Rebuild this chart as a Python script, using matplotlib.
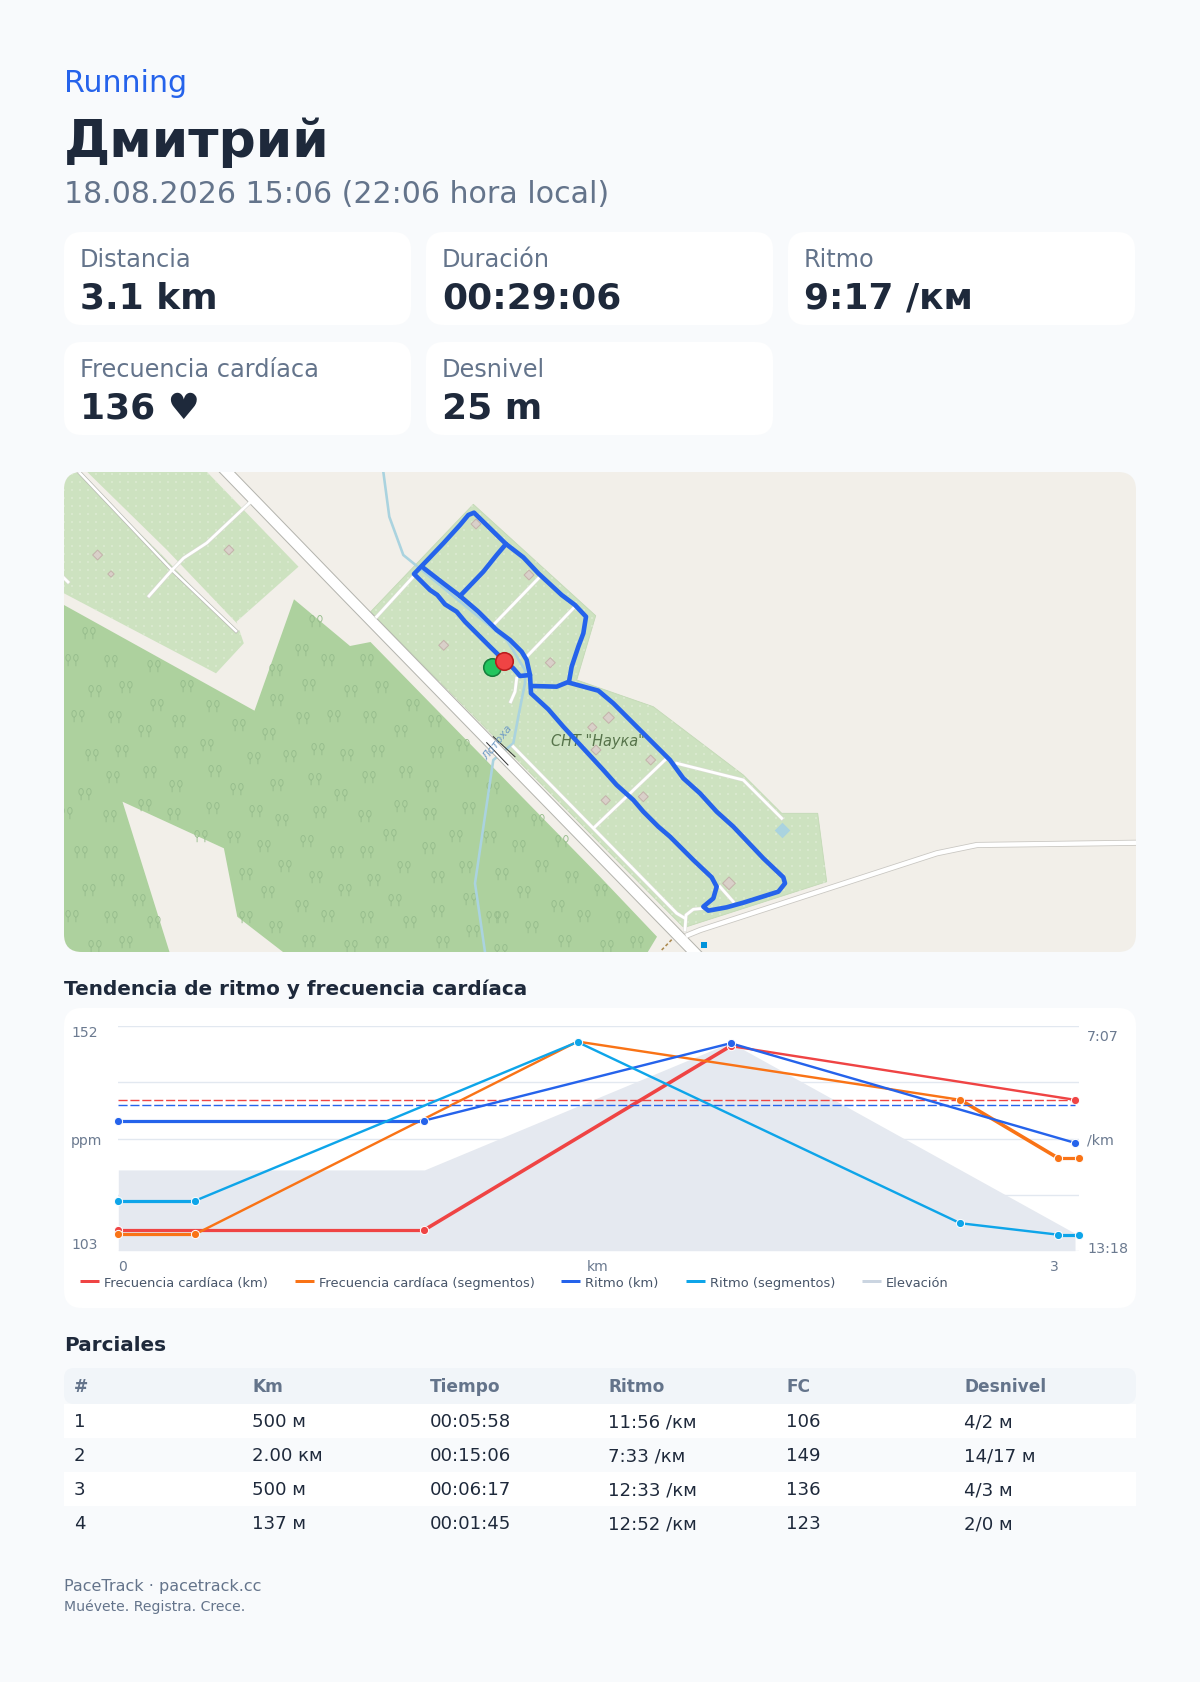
import matplotlib
matplotlib.use('Agg')
import matplotlib.pyplot as plt
import numpy as np
from matplotlib.patches import FancyBboxPatch, Polygon, Rectangle
from matplotlib.path import Path
from matplotlib.transforms import Affine2D

# --- header and cards
sport = 'Running'
athlete = 'Дмитрий'
started = '18.08.2026 15:06 (22:06 hora local)'
card_labels = ['Distancia', 'Duración', 'Ritmo', 'Frecuencia cardíaca', 'Desnivel']
card_values = ['3.1 km', '00:29:06', '9:17 /км', '136 ♥', '25 m']

# --- chart
km_x = [0, 1, 2, 3.125]
km_hr = [107, 107, 148, 136]
km_pace = [583, 583, 455, 620]
seg_x = [0, 0.25, 1.5, 2.75, 3.07, 3.137]
seg_hr = [106, 106, 149, 136, 123, 123]
seg_pace = [716, 716, 453, 753, 772, 772]
elevation = [9, 9, 23.2, 1.94]
avg_hr = 136
avg_pace = 557
legend_labels = ['Frecuencia cardíaca (km)', 'Frecuencia cardíaca (segmentos)', 'Ritmo (km)',
                 'Ritmo (segmentos)', 'Elevación']

# --- splits table
split_cols = ['#', 'Km', 'Tiempo', 'Ritmo', 'FC', 'Desnivel']
split_rows = [
    ['1', '500 м', '00:05:58', '11:56 /км', '106', '4/2 м'],
    ['2', '2.00 км', '00:15:06', '7:33 /км', '149', '14/17 м'],
    ['3', '500 м', '00:06:17', '12:33 /км', '136', '4/3 м'],
    ['4', '137 м', '00:01:45', '12:52 /км', '123', '2/0 м'],
]

# --- map, in page pixels
allot_west = [(64, 472), (207, 472), (298.5, 566.7), (236.5, 621.7), (243.8, 643.3), (216, 673.3), (64, 593.3)]
allot_snt = [(473.3, 504.3), (595.7, 615.7), (576.7, 680), (653.3, 706.7), (743.3, 775), (781.7, 813.3),
             (817.7, 813.3), (826.7, 881.7), (686.7, 926.7), (683, 926.7), (376.7, 618.3), (370.7, 611.7)]
forest = [(64, 605), (254.5, 710.7), (294, 599.3), (350, 646), (370.5, 642), (600, 876.7), (657, 936.7),
          (647.8, 952), (283, 952), (237.3, 916.7), (223.9, 848.3), (122.5, 801.7), (169.5, 952), (64, 952)]
strip_west = [(82.3, 472), (164, 552), (236.5, 628)]
service_west = [(79, 472), (172, 570), (236, 631)]
cross_west = [(250.7, 501.7), (206.7, 543), (183.7, 558), (172, 570), (149, 596)]
main_road = [(225, 470), (350, 599), (696, 954)]
east_road = [(688, 935), (700.3, 930), (936.8, 853.3), (977, 845), (1140, 842.7)]
lanes = [
    [(376.7, 616.7), (413.3, 576.7)],
    [(513.3, 746.7), (676.7, 913.3), (685, 918.3)],
    [(685, 930), (686, 915), (693.3, 909.3), (703.3, 908.3)],
    [(493.3, 625), (540, 576.7)],
    [(526.7, 656.7), (573.3, 608.3)],
    [(595, 826.7), (665, 760)],
    [(676.7, 763.3), (743.3, 780), (781.7, 818.3)],
    [(516.7, 678.3), (515, 691.7), (510.7, 701.7)],
    [(720, 886.7), (733.3, 901.7)],
    [(64, 578), (68, 582)],
]
stream = [(383.3, 471.7), (389.3, 516.7), (403.3, 555), (421.7, 570), (506.7, 640), (525, 670), (525, 683),
          (518.3, 716.7), (513.3, 743.3), (493.3, 760), (475, 883.3), (485, 952)]
buildings = [(97.6, 555), (111, 574), (229, 550), (476, 524), (529, 575), (443.7, 645.3), (550.3, 662.7),
             (608.7, 717.7), (592.3, 727.3), (596, 750), (650.7, 760), (643.3, 796.7), (605.7, 800.3), (729, 883.3)]
building_px = [7, 4.5, 7, 7, 7, 7, 7, 8, 6.5, 7, 7, 7, 6.5, 9]
# tree symbols, page position
tree_x = [89, 72, 111, 154, 95, 126, 187, 157, 213, 78, 115, 179, 145, 239, 269, 92, 122, 181, 207, 254,
          290, 318, 347, 378, 334, 370, 303, 277, 309, 351, 382, 276, 302, 328, 367, 316, 413, 435, 401, 463,
          437, 472, 406, 369, 315, 277, 237, 215, 176, 150, 113, 85, 66, 110, 145, 174, 213, 256, 282, 320,
          365, 341, 432, 493, 401, 430, 469, 512, 538, 390, 456, 490, 519, 562, 234, 264, 307, 337, 367, 429,
          201, 81, 111, 285, 316, 246, 268, 345, 374, 404, 438, 466, 502, 542, 572, 524, 470, 395, 89, 118,
          139, 302, 438, 493, 558, 72, 111, 154, 246, 276, 328, 367, 410, 502, 532, 584, 473, 95, 126, 309,
          351, 382, 443, 565, 501, 601, 623, 637, 607]
tree_y = [634, 661, 662, 667, 692, 688, 687, 706, 707, 717, 718, 722, 732, 726, 735, 756, 752, 753, 746, 759,
          757, 750, 756, 752, 717, 718, 719, 701, 686, 692, 688, 671, 651, 661, 661, 622, 706, 722, 732, 746,
          753, 772, 773, 778, 780, 786, 790, 772, 787, 773, 778, 795, 814, 817, 806, 815, 809, 812, 821, 813,
          817, 796, 787, 789, 807, 815, 809, 812, 821, 836, 837, 838, 847, 842, 838, 847, 842, 853, 853, 849,
          837, 853, 853, 867, 878, 875, 893, 891, 881, 868, 878, 868, 875, 867, 878, 893, 900, 901, 891, 881,
          901, 907, 912, 918, 907, 917, 918, 923, 918, 928, 917, 918, 923, 918, 928, 917, 932, 947, 943, 942,
          947, 943, 943, 942, 951, 891, 918, 943, 947]

# route legs, in the pixels of the 3x map crop
route_a = [(463, 572), (420, 530), (370, 480), (345, 455), (320, 425), (285, 403), (262, 375), (240, 360), (192, 312),
           (240, 262), (280, 220), (330, 165), (355, 135), (372, 128), (420, 175), (468, 222), (440, 255), (400, 305),
           (330, 378), (280, 340), (222, 295)]
route_b = [(468, 222), (520, 262), (565, 310), (635, 375), (675, 405), (708, 440), (700, 490), (685, 530), (665, 590),
           (657, 635), (620, 650), (545, 648)]
route_c = [(463, 572), (490, 595), (510, 618), (540, 615), (530, 570), (515, 545), (480, 510), (440, 480), (385, 425), (330, 378)]
route_d = [(540, 615), (543, 670), (595, 718), (640, 770), (700, 835), (760, 900), (800, 945), (850, 990), (880, 1025),
           (925, 1070), (960, 1100), (1030, 1170), (1085, 1222), (1100, 1250), (1090, 1285), (1060, 1310), (1075, 1322),
           (1130, 1312), (1180, 1298), (1285, 1265), (1305, 1240), (1300, 1222), (1240, 1165), (1150, 1070), (1100, 1025),
           (1050, 970), (1000, 925), (960, 870), (880, 790), (830, 740), (790, 700), (745, 662), (657, 638)]


def pt(px):
    return px * 0.72


def xy(points):
    return [p[0] for p in points], [p[1] for p in points]


def crop(points):
    return [(350 + p[0] / 3, 470 + p[1] / 3) for p in points]


INK = '#1e293b'
MUTED = '#64748b'
BG = '#f8fafc'
RED = '#ef4444'
ORANGE = '#f97316'
BLUE = '#2563eb'
CYAN = '#0ea5e9'

fig = plt.figure(figsize=(12, 16.82), dpi=100, facecolor=BG)

page = fig.add_axes([0, 0, 1, 1])
page.set_xlim(0, 1200)
page.set_ylim(1682, 0)
page.axis('off')


def label(x, y, s, size, color=INK, weight='normal', **kw):
    page.text(x, y, s, fontsize=pt(size), color=color, fontweight=weight, va='baseline', **kw)


def rounded(x0, y0, x1, y1, r, color, ax=page, z=1):
    box = FancyBboxPatch((x0, y0), x1 - x0, y1 - y0, boxstyle='round,pad=0,rounding_size=%g' % r,
                         fc=color, ec='none', zorder=z)
    ax.add_patch(box)
    return box


label(64, 91.7, sport, 30, BLUE)
label(64, 157, athlete, 52, INK, 'bold')
label(64, 203, started, 30, MUTED)

card_x = [64, 426, 788]
for i, (name, value) in enumerate(zip(card_labels, card_values)):
    x = card_x[i % 3]
    y = 232 + 110 * (i // 3)
    rounded(x, y, x + 347, y + 93, 18, 'white')
    label(x + 16, y + 34.7, name, 24, MUTED)
    label(x + 16, y + 76.5, value, 36, INK, 'bold')

# --- map
m = fig.add_axes([64 / 1200, 1 - 952 / 1682, 1072 / 1200, 480 / 1682])
m.set_xlim(64, 1136)
m.set_ylim(952, 472)
m.axis('off')
shape = rounded(64, 472, 1136, 952, 18, '#f2efe9', ax=m, z=0)

GREEN = '#cde2c0'
m.add_patch(Polygon(allot_west, fc=GREEN, ec='none', zorder=1))
m.add_patch(Polygon(allot_snt, fc=GREEN, ec='#c3d9b6', lw=0.6, zorder=1))
m.add_patch(Polygon(forest, fc='#add19e', ec='none', zorder=1))

# allotment dot texture
gx, gy = np.meshgrid(np.arange(64, 1136, 8.0), np.arange(474, 952, 8.0))
grid = np.column_stack([gx.ravel(), gy.ravel()])
for poly in (allot_west, allot_snt):
    dots = grid[Path(poly).contains_points(grid)]
    m.scatter(dots[:, 0], dots[:, 1], marker='+', s=pt(2.8) ** 2, c='#e6f0de', linewidths=pt(0.45), zorder=1.5)

# tree symbols
one = Path.unit_circle().transformed(Affine2D().scale(0.34, 0.5).translate(0, 0.5))
stem = Path([(0, 0), (0, -0.8)])
tree = Path.make_compound_path(one.transformed(Affine2D().translate(-0.6, 0)),
                               stem.transformed(Affine2D().translate(-0.6, 0)),
                               one.transformed(Affine2D().translate(0.6, 0)),
                               stem.transformed(Affine2D().translate(0.6, 0)))
trees = np.column_stack([tree_x, tree_y])
trees = trees[Path(forest).contains_points(trees)]
m.scatter(trees[:, 0], trees[:, 1], marker=tree, s=pt(13) ** 2, facecolors='none', edgecolors='#97bd8d',
          linewidths=pt(0.9), zorder=1.6)

m.plot(*xy(strip_west), color='#f2efe9', lw=pt(7), zorder=1.7)
m.plot(*xy(stream), color='#aad3df', lw=pt(2.6), solid_joinstyle='round', zorder=2)

m.plot(*xy(main_road), color='#b4b4ae', lw=pt(12), zorder=3)
m.plot(*xy(main_road), color='white', lw=pt(10), zorder=3.1)
m.plot(*xy(east_road), color='#c9c7c2', lw=pt(6), zorder=3)
m.plot(*xy(east_road), color='white', lw=pt(4.4), zorder=3.1)
m.plot(*xy(service_west), color='#b9b9b4', lw=pt(4), zorder=3)
m.plot(*xy(service_west), color='white', lw=pt(2.6), zorder=3.1)
m.plot(*xy(cross_west), color='#d8d8d2', lw=pt(4), zorder=3)
m.plot(*xy(cross_west), color='white', lw=pt(2.8), zorder=3.1)
for lane in lanes:
    m.plot(*xy(lane), color='#dcdcd6', lw=pt(3.8), zorder=3.2)
for lane in lanes:
    m.plot(*xy(lane), color='white', lw=pt(2.8), zorder=3.3)
# bridge edges
m.plot([493.3, 515], [736.7, 756.7], color='#333333', lw=pt(1), zorder=3.4)
m.plot([486.7, 508], [742.7, 765], color='#333333', lw=pt(1), zorder=3.4)

bx, by = xy(buildings)
m.scatter(bx, by, marker='D', s=[pt(b) ** 2 for b in building_px], c='#d9d0c9', edgecolors='#c4b3ab',
          linewidths=pt(1), zorder=4)
m.scatter([782.3], [830], marker='D', s=pt(11) ** 2, c='#aad3df', linewidths=0, zorder=4)
m.scatter([704], [945], marker='s', s=pt(6) ** 2, c='#0092da', linewidths=0, zorder=4)
m.plot([661.7, 673.3], [950, 938], color='#ac8a50', lw=pt(1.6), ls=(0, (2, 1.5)), zorder=4)

m.text(598, 741.7, 'СНТ "Наука"', fontsize=pt(14.5), style='italic', color='#56734a', ha='center', va='center', zorder=5)
m.text(498, 743, 'Лотоха', fontsize=pt(11), style='italic', color='#6f9bc6', ha='center', va='center',
       rotation=52, zorder=5)

for leg in (route_a, route_b, route_c, route_d):
    m.plot(*xy(crop(leg)), color=BLUE, lw=pt(4.6), solid_capstyle='round', solid_joinstyle='round', zorder=6)

m.scatter([492], [667.3], s=pt(17.5) ** 2, c='#22c55e', edgecolors='#15803d', linewidths=pt(1.6), zorder=7)
m.scatter([504.3], [660.7], s=pt(17.5) ** 2, c=RED, edgecolors='#b91c1c', linewidths=pt(1.6), zorder=8)

for art in m.get_children():
    if art is not shape and hasattr(art, 'set_clip_path') and not hasattr(art, 'get_text'):
        art.set_clip_path(shape)

# --- chart
label(64, 995, 'Tendencia de ritmo y frecuencia cardíaca', 20, INK, 'bold')
rounded(64, 1008, 1136, 1308, 18, 'white')

box = [118.3 / 1200, 1 - 1250.7 / 1682, (1078.7 - 118.3) / 1200, (1250.7 - 1026.3) / 1682]
ax_elev = fig.add_axes(box, zorder=2)
ax_elev.set_xlim(0, 3.137)
ax_elev.set_ylim(0, 25)
ax_elev.set_yticks(np.linspace(0, 25, 5))
ax_elev.set_xticks([])
ax_elev.grid(axis='y', color='#e2e8f0', lw=pt(1.4))
ax_elev.set_axisbelow(True)
ax_elev.tick_params(length=0, labelleft=False)
for s in ax_elev.spines.values():
    s.set_visible(False)
ax_elev.patch.set_alpha(0)
ax_elev.fill_between(km_x, 0, elevation, color='#e5e9f0', lw=0, zorder=2)

ax_hr = fig.add_axes(box, zorder=3)
ax_hr.set_xlim(0, 3.137)
ax_hr.set_ylim(102.35, 152.4)
ax_hr.axis('off')

ax_pace = fig.add_axes(box, zorder=4)
ax_pace.set_xlim(0, 3.137)
ax_pace.set_ylim(798.5, 427)
ax_pace.axis('off')

ax_hr.hlines(avg_hr, 0, km_x[-1], color=RED, lw=pt(1.4), linestyles=(0, (6.5, 2)))
ax_pace.hlines(avg_pace, 0, km_x[-1], color=BLUE, lw=pt(1.4), linestyles=(0, (6.5, 2)))


def series(ax, xs, ys, color, widths):
    for i in range(len(xs) - 1):
        ax.plot(xs[i:i + 2], ys[i:i + 2], color=color, lw=pt(widths[i]), solid_capstyle='butt', clip_on=False)
    ax.plot(xs, ys, ls='none', marker='o', ms=pt(8.2), mfc=color, mec='white', mew=pt(1), clip_on=False)


series(ax_hr, km_x, km_hr, RED, [3.2, 3.6, 2.4])
series(ax_hr, seg_x, seg_hr, ORANGE, [3.2, 2.4, 2.4, 3.6, 3.2])
series(ax_pace, km_x, km_pace, BLUE, [3.2, 2.4, 2.4])
series(ax_pace, seg_x, seg_pace, CYAN, [3.2, 2.4, 2.4, 2.4, 3.2])

AXIS_TEXT = '#6b7a90'
label(71, 1036.7, '152', 14, AXIS_TEXT)
label(71, 1145, 'ppm', 14, AXIS_TEXT)
label(71, 1249, '103', 14, AXIS_TEXT)
label(118, 1270.7, '0', 14, AXIS_TEXT)
label(598, 1270.7, 'km', 14, AXIS_TEXT, ha='center')
label(1054.5, 1270.7, '3', 14, AXIS_TEXT, ha='center')
label(1087, 1041, '7:07', 14.3, AXIS_TEXT)
label(1087, 1145, '/km', 14.3, AXIS_TEXT)
label(1087, 1253, '13:18', 14.3, AXIS_TEXT)

legend_colors = [RED, ORANGE, BLUE, CYAN, '#cbd5e1']
legend_x = [80, 295, 561, 686, 862]
for name, color, x in zip(legend_labels, legend_colors, legend_x):
    page.plot([x, x + 19], [1281, 1281], color=color, lw=pt(3), solid_capstyle='butt', zorder=3)
    label(x + 24, 1286.7, name, 13, '#475569', zorder=3)

# --- splits
label(64, 1350.7, 'Parciales', 20, INK, 'bold')
rounded(64, 1368, 1136, 1404, 10, '#f1f5f9')
col_x = [74, 252, 430, 608, 786, 964]
for x, name in zip(col_x, split_cols):
    label(x, 1392, name, 17, MUTED, 'bold')
for r, row in enumerate(split_rows):
    y = 1404 + 34 * r
    if r % 2 == 0:
        page.add_patch(Rectangle((64, y), 1072, 34, fc='white', ec='none', zorder=1))
    for x, cell in zip(col_x, row):
        label(x, y + 23.3, cell, 18.2, INK, zorder=2)

label(64, 1590.7, 'PaceTrack · pacetrack.cc', 16, MUTED)
label(64, 1610.7, 'Muévete. Registra. Crece.', 14, MUTED)

fig.savefig('out.png', dpi=100, facecolor=BG)
